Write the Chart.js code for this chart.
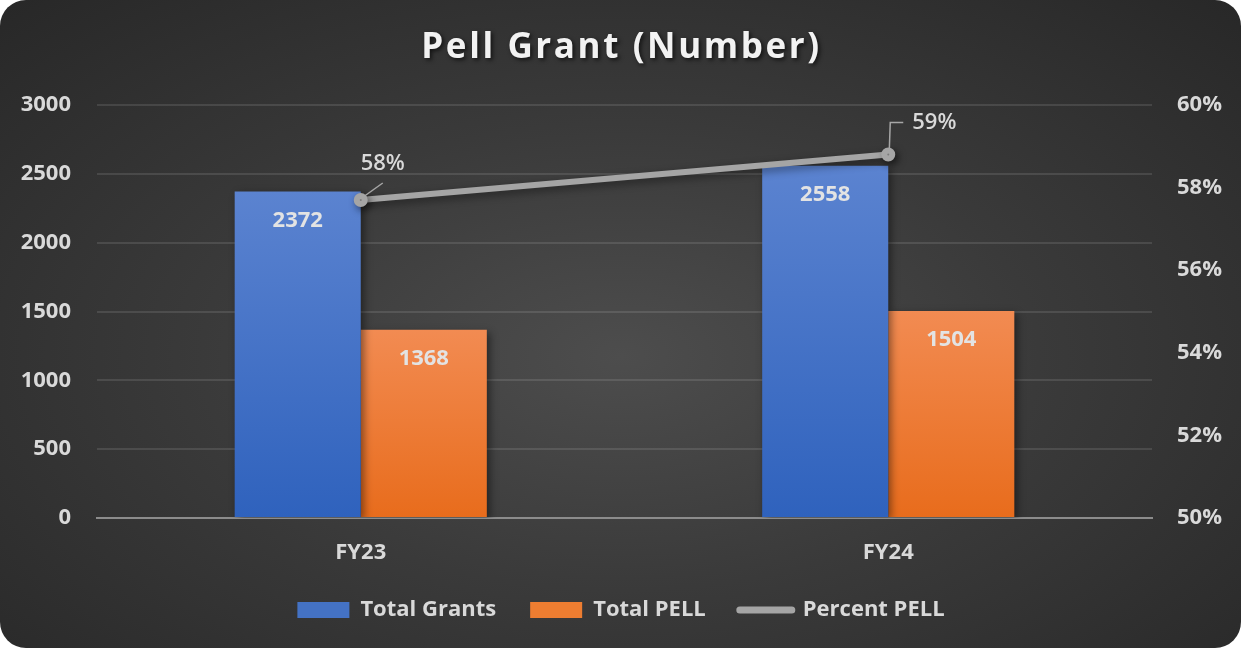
<!DOCTYPE html>
<html>
<head>
<meta charset="utf-8">
<script src="https://cdn.jsdelivr.net/npm/chart.js@4.4.1/dist/chart.umd.min.js"></script>
<style>
  html, body { margin: 0; padding: 0; background: #ffffff; }
  #card {
    width: 1241px; height: 648px; border-radius: 26px; overflow: hidden;
    background: radial-gradient(ellipse 75% 80% at 50% 55%, #4d4d4d 0%, #3a3a3a 45%, #262626 100%);
  }
  canvas { display: block; }
</style>
</head>
<body>
<div id="card"><canvas id="pell" width="1241" height="648"></canvas></div>
<script>
// data
const CATEGORIES   = ['FY23', 'FY24'];
const TOTAL_GRANTS = [2372, 2558];
const TOTAL_PELL   = [1368, 1504];
const PERCENT_PELL = [57.7, 58.8];   // % of grants
const PCT_LABELS   = ['58%', '59%'];

const FONT = "'Open Sans', 'Noto Sans', sans-serif";
const TXT  = '#d9d9d9';

// bar gradient from the bar's own top down to the axis
function barFill(top, bottom) {
  return (c) => {
    const ch = c.chart, a = ch.chartArea;
    if (!a || c.raw == null) return bottom;
    const yTop = ch.scales.y.getPixelForValue(c.raw);
    const g = ch.ctx.createLinearGradient(0, yTop, 0, a.bottom);
    g.addColorStop(0, top);
    g.addColorStop(1, bottom);
    return g;
  };
}

// title drawn by hand so it can get letter spacing + shadow
const titlePlugin = {
  id: 'titleText',
  afterDraw(chart) {
    const ctx = chart.ctx;
    ctx.save();
    ctx.font = `bold 35px ${FONT}`;
    ctx.letterSpacing = '2.6px';
    ctx.textAlign = 'center';
    ctx.textBaseline = 'middle';
    ctx.shadowColor = 'rgba(0,0,0,0.65)';
    ctx.shadowBlur = 4; ctx.shadowOffsetX = 2; ctx.shadowOffsetY = 2;
    ctx.fillStyle = '#f2f2f2';
    ctx.fillText('Pell Grant (Number)', chart.width / 2 + 1, 48);
    ctx.restore();
  }
};

// soft drop shadow under bars and line
const shadowPlugin = {
  id: 'shadows',
  beforeDatasetDraw(chart) {
    const ctx = chart.ctx;
    ctx.save();
    ctx.shadowColor = 'rgba(0,0,0,0.45)';
    ctx.shadowBlur = 8; ctx.shadowOffsetX = 3; ctx.shadowOffsetY = 3;
  },
  afterDatasetDraw(chart) { chart.ctx.restore(); }
};

// value labels inside bars, percent labels with leader lines
const labelPlugin = {
  id: 'valueLabels',
  afterDatasetsDraw(chart) {
    const ctx = chart.ctx;
    ctx.save();
    ctx.textAlign = 'center';
    ctx.textBaseline = 'middle';
    ctx.fillStyle = '#e3e3e3';
    ctx.font = `bold 22px ${FONT}`;
    [0, 1].forEach(di => {
      chart.getDatasetMeta(di).data.forEach((bar, i) => {
        ctx.fillText(String(chart.data.datasets[di].data[i]), bar.x, bar.y + 29);
      });
    });
    const pts = chart.getDatasetMeta(2).data;
    ctx.strokeStyle = '#a6a6a6';
    ctx.lineWidth = 1.5;
    // FY23: short diagonal leader
    let p = pts[0];
    ctx.beginPath(); ctx.moveTo(p.x + 1, p.y - 2); ctx.lineTo(p.x + 22, p.y - 17); ctx.stroke();
    ctx.font = `600 22px ${FONT}`;
    ctx.fillStyle = TXT;
    ctx.fillText(PCT_LABELS[0], p.x + 22, p.y - 36);
    // FY24: elbow leader
    p = pts[1];
    ctx.beginPath(); ctx.moveTo(p.x + 1, p.y - 3); ctx.lineTo(p.x + 2, p.y - 32); ctx.lineTo(p.x + 15, p.y - 32); ctx.stroke();
    ctx.textAlign = 'left';
    ctx.fillText(PCT_LABELS[1], p.x + 24, p.y - 32);
    ctx.restore();
  }
};

new Chart(document.getElementById('pell'), {
  type: 'bar',
  data: {
    labels: CATEGORIES,
    datasets: [
      { label: 'Total Grants', data: TOTAL_GRANTS, yAxisID: 'y', order: 1,
        backgroundColor: barFill('#5b83d0', '#2f62bd'),
        categoryPercentage: 0.478, barPercentage: 1 },
      { label: 'Total PELL', data: TOTAL_PELL, yAxisID: 'y', order: 1,
        backgroundColor: barFill('#f28b52', '#e86c1c'),
        categoryPercentage: 0.478, barPercentage: 1 },
      { type: 'line', label: 'Percent PELL', data: PERCENT_PELL, yAxisID: 'y1', order: 0,
        borderColor: '#a5a5a5', backgroundColor: '#a5a5a5', borderWidth: 6,
        borderCapStyle: 'round', pointRadius: 4, pointHoverRadius: 4, tension: 0 }
    ]
  },
  options: {
    responsive: false,
    animation: false,
    layout: { padding: { top: 105, left: 19, right: 18, bottom: 17 } },
    plugins: {
      title: { display: false },
      tooltip: { enabled: false },
      legend: {
        position: 'bottom',
        labels: {
          usePointStyle: true, pointStyleWidth: 52, boxHeight: 16,
          padding: 34, color: TXT, font: { family: FONT, size: 22, weight: 'bold' },
          generateLabels(chart) {
            const cols = ['#4472c4', '#ed7d31', '#a5a5a5'];
            return chart.data.datasets.map((ds, i) => ({
              text: ds.label, datasetIndex: i, hidden: false,
              fillStyle: cols[i], strokeStyle: cols[i],
              lineWidth: i === 2 ? 7 : 0, lineCap: 'round',
              pointStyle: i === 2 ? 'line' : 'rect', fontColor: TXT
            }));
          }
        }
      }
    },
    scales: {
      x: {
        grid: { display: false, drawTicks: false },
        border: { color: '#8c8c8c', width: 2 },
        ticks: { color: TXT, padding: 22, font: { family: FONT, size: 22, weight: 'bold' } },
        afterFit(s) { s.height = 47; }
      },
      y: {
        position: 'left', min: 0, max: 3000,
        ticks: { stepSize: 500, color: TXT, padding: 26, callback: v => String(v),
                 font: { family: FONT, size: 22, weight: 'bold' } },
        grid: { color: 'rgba(255,255,255,0.11)', lineWidth: 2, drawTicks: false },
        border: { display: false },
        afterFit(s) { s.width = 78; }
      },
      y1: {
        position: 'right', min: 50, max: 60,
        ticks: { stepSize: 2, color: TXT, padding: 25, callback: v => v + '%',
                 font: { family: FONT, size: 22, weight: 'bold' } },
        grid: { display: false, drawTicks: false },
        border: { display: false },
        afterFit(s) { s.width = 71; }
      }
    }
  },
  plugins: [titlePlugin, shadowPlugin, labelPlugin]
});
</script>
</body>
</html>
